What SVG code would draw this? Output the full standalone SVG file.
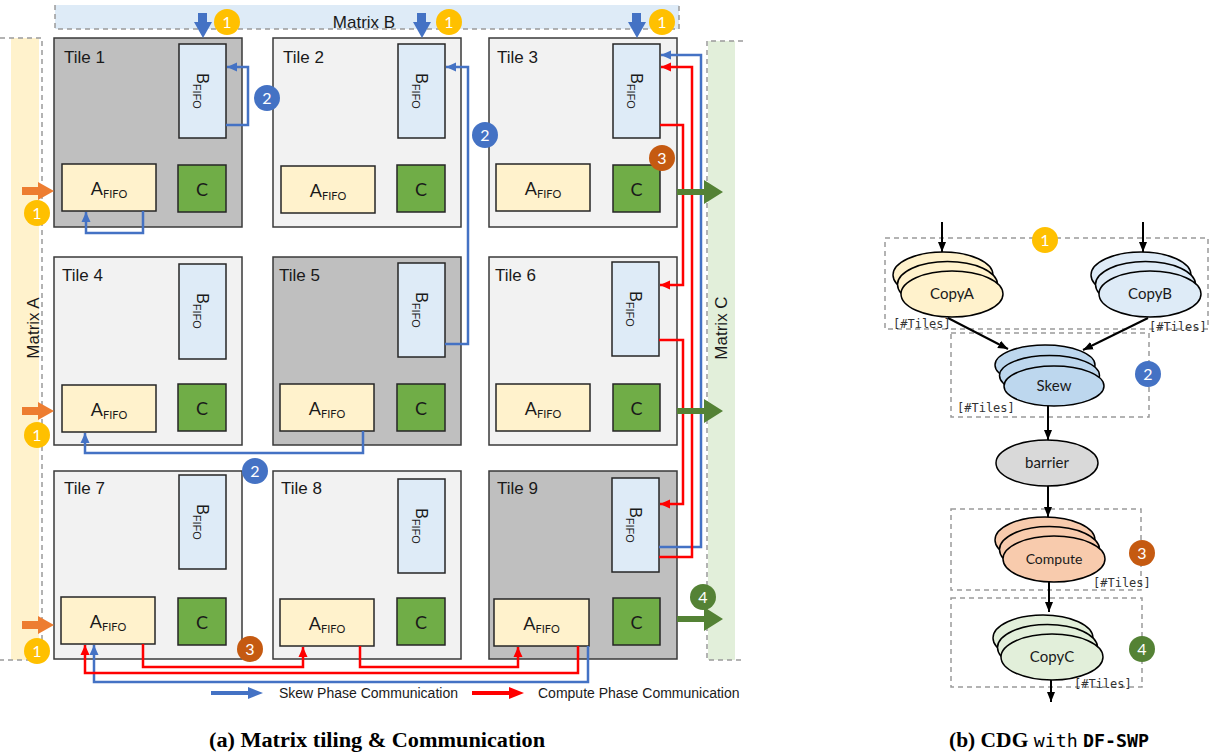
<svg xmlns="http://www.w3.org/2000/svg" width="1212" height="754" viewBox="0 0 1212 754">
<defs>
<style>
.dash{fill:none;stroke:#9a9a9a;stroke-width:1.5;stroke-dasharray:5 4}
.tileD{fill:#bfbfbf;stroke:#3a3a3a;stroke-width:1.5}
.tileL{fill:#f2f2f2;stroke:#3a3a3a;stroke-width:1.5}
.bf{fill:#deebf7;stroke:#262626;stroke-width:1.5}
.af{fill:#fff2cc;stroke:#262626;stroke-width:1.5}
.cf{fill:#70ad47;stroke:#262626;stroke-width:1.5}
.tl{font-family:"Liberation Sans",Arial,sans-serif;font-size:17px;fill:#1a1a1a}
.bt{font-family:"Liberation Sans",Arial,sans-serif;font-size:16px;fill:#1a1a1a}
.at{font-family:Lato,"Open Sans",sans-serif;font-size:18px;fill:#1a1a1a}
.sub{font-size:11px}
.sk{fill:none;stroke:#4472c4;stroke-width:2.5}
.cp{fill:none;stroke:#ff0000;stroke-width:2.5}
.bn{font-family:Lato,"Open Sans",sans-serif;font-size:16px;fill:#ffffff;text-anchor:middle}
.cdg{fill:none;stroke:#000;stroke-width:2}
.el{stroke:#000;stroke-width:1.5}
.et{font-family:Lato,"Open Sans",sans-serif;font-size:15px;fill:#1a1a1a;text-anchor:middle}
.mono{font-family:"DejaVu Sans Mono","Liberation Mono",monospace;font-size:12px;fill:#333}
.lg{font-family:"Liberation Sans",Arial,sans-serif;font-size:14px;fill:#1a1a1a}
.cap{font-family:"Liberation Serif","Times New Roman",serif;font-size:20px;font-weight:bold;fill:#000}
</style>
<marker id="mb" markerUnits="userSpaceOnUse" markerWidth="10" markerHeight="10" viewBox="0 0 10 10" refX="10" refY="5" orient="auto"><path d="M0,0.5 L10,5 L0,9.5 z" fill="#4472c4"/></marker>
<marker id="mr" markerUnits="userSpaceOnUse" markerWidth="10" markerHeight="10" viewBox="0 0 10 10" refX="10" refY="5" orient="auto"><path d="M0,0.5 L10,5 L0,9.5 z" fill="#ff0000"/></marker>
<marker id="mk" markerUnits="userSpaceOnUse" markerWidth="10" markerHeight="10" viewBox="0 0 10 10" refX="10" refY="5" orient="auto"><path d="M0,1 L10,5 L0,9 z" fill="#000"/></marker>
</defs>
<rect width="1212" height="754" fill="#ffffff"/>

<!-- Matrix bands -->
<g id="matrixB">
<rect x="55" y="5" width="624" height="24" fill="#deebf7"/>
<path class="dash" d="M55,5 V29 H679 V5"/>
<text class="tl" x="364" y="28" text-anchor="middle">Matrix B</text>
</g>
<g id="matrixA">
<rect x="11" y="38" width="28" height="622" fill="#fff2cc"/>
<path class="dash" d="M0,38 H42 V660 H0"/>
<text class="tl" transform="translate(39,328) rotate(-90)" text-anchor="middle">Matrix A</text>
</g>
<g id="matrixC">
<rect x="708" y="41" width="27" height="619" fill="#e2efda"/>
<path class="dash" d="M743,41 H707 V660 H743"/>
<text class="tl" transform="translate(727,328) rotate(-90)" text-anchor="middle">Matrix C</text>
</g>

<!-- Tiles -->
<g id="tile1"><rect class="tileD" x="54" y="38" width="188" height="189"/><text class="tl" x="64" y="63">Tile 1</text>
<rect class="bf" x="179" y="44" width="47" height="94"/><text class="bt" transform="translate(202.5,91) rotate(90)" y="6" text-anchor="middle">B<tspan class="sub" dy="4">FIFO</tspan></text>
<rect class="af" x="62" y="164" width="94" height="47"/><text class="at" x="109" y="195" text-anchor="middle">A<tspan class="sub" dy="3">FIFO</tspan></text>
<rect class="cf" x="178" y="165" width="48" height="47"/><text class="at" x="202" y="196" text-anchor="middle">C</text></g>

<g id="tile2"><rect class="tileL" x="273" y="38" width="188" height="189"/><text class="tl" x="283" y="63">Tile 2</text>
<rect class="bf" x="398" y="44" width="47" height="94"/><text class="bt" transform="translate(421.5,91) rotate(90)" y="6" text-anchor="middle">B<tspan class="sub" dy="4">FIFO</tspan></text>
<rect class="af" x="281" y="166" width="94" height="47"/><text class="at" x="328" y="197" text-anchor="middle">A<tspan class="sub" dy="3">FIFO</tspan></text>
<rect class="cf" x="397" y="165" width="48" height="47"/><text class="at" x="421" y="196" text-anchor="middle">C</text></g>

<g id="tile3"><rect class="tileL" x="489" y="38" width="188" height="189"/><text class="tl" x="497" y="63">Tile 3</text>
<rect class="bf" x="613" y="44" width="47" height="94"/><text class="bt" transform="translate(636.5,91) rotate(90)" y="6" text-anchor="middle">B<tspan class="sub" dy="4">FIFO</tspan></text>
<rect class="af" x="496" y="164" width="94" height="47"/><text class="at" x="543" y="195" text-anchor="middle">A<tspan class="sub" dy="3">FIFO</tspan></text>
<rect class="cf" x="613" y="165" width="47" height="47"/><text class="at" x="636.5" y="196" text-anchor="middle">C</text></g>

<g id="tile4"><rect class="tileL" x="54" y="257" width="188" height="188"/><text class="tl" x="62" y="281">Tile 4</text>
<rect class="bf" x="179" y="264" width="47" height="95"/><text class="bt" transform="translate(202.5,311) rotate(90)" y="6" text-anchor="middle">B<tspan class="sub" dy="4">FIFO</tspan></text>
<rect class="af" x="62" y="385" width="94" height="47"/><text class="at" x="109" y="416" text-anchor="middle">A<tspan class="sub" dy="3">FIFO</tspan></text>
<rect class="cf" x="178" y="384" width="48" height="47"/><text class="at" x="202" y="415" text-anchor="middle">C</text></g>

<g id="tile5"><rect class="tileD" x="273" y="257" width="188" height="188"/><text class="tl" x="279" y="281">Tile 5</text>
<rect class="bf" x="398" y="263" width="47" height="94"/><text class="bt" transform="translate(421.5,310) rotate(90)" y="6" text-anchor="middle">B<tspan class="sub" dy="4">FIFO</tspan></text>
<rect class="af" x="280" y="384" width="94" height="47"/><text class="at" x="327" y="415" text-anchor="middle">A<tspan class="sub" dy="3">FIFO</tspan></text>
<rect class="cf" x="397" y="384" width="48" height="47"/><text class="at" x="421" y="415" text-anchor="middle">C</text></g>

<g id="tile6"><rect class="tileL" x="489" y="257" width="188" height="188"/><text class="tl" x="495" y="281">Tile 6</text>
<rect class="bf" x="612" y="262" width="47" height="94"/><text class="bt" transform="translate(635.5,309) rotate(90)" y="6" text-anchor="middle">B<tspan class="sub" dy="4">FIFO</tspan></text>
<rect class="af" x="496" y="384" width="94" height="47"/><text class="at" x="543" y="415" text-anchor="middle">A<tspan class="sub" dy="3">FIFO</tspan></text>
<rect class="cf" x="613" y="384" width="47" height="47"/><text class="at" x="636.5" y="415" text-anchor="middle">C</text></g>

<g id="tile7"><rect class="tileL" x="54" y="471" width="188" height="188"/><text class="tl" x="64" y="494">Tile 7</text>
<rect class="bf" x="179" y="475" width="47" height="94"/><text class="bt" transform="translate(202.5,522) rotate(90)" y="6" text-anchor="middle">B<tspan class="sub" dy="4">FIFO</tspan></text>
<rect class="af" x="61" y="597" width="94" height="47"/><text class="at" x="108" y="628" text-anchor="middle">A<tspan class="sub" dy="3">FIFO</tspan></text>
<rect class="cf" x="178" y="598" width="48" height="47"/><text class="at" x="202" y="629" text-anchor="middle">C</text></g>

<g id="tile8"><rect class="tileL" x="273" y="471" width="188" height="188"/><text class="tl" x="281" y="494">Tile 8</text>
<rect class="bf" x="398" y="479" width="47" height="94"/><text class="bt" transform="translate(421.5,526) rotate(90)" y="6" text-anchor="middle">B<tspan class="sub" dy="4">FIFO</tspan></text>
<rect class="af" x="280" y="599" width="94" height="47"/><text class="at" x="327" y="630" text-anchor="middle">A<tspan class="sub" dy="3">FIFO</tspan></text>
<rect class="cf" x="397" y="598" width="48" height="47"/><text class="at" x="421" y="629" text-anchor="middle">C</text></g>

<g id="tile9"><rect class="tileD" x="489" y="471" width="188" height="188"/><text class="tl" x="497" y="494">Tile 9</text>
<rect class="bf" x="612" y="478" width="47" height="94"/><text class="bt" transform="translate(635.5,525) rotate(90)" y="6" text-anchor="middle">B<tspan class="sub" dy="4">FIFO</tspan></text>
<rect class="af" x="494" y="599" width="95" height="47"/><text class="at" x="541.5" y="630" text-anchor="middle">A<tspan class="sub" dy="3">FIFO</tspan></text>
<rect class="cf" x="613" y="598" width="47" height="47"/><text class="at" x="636.5" y="629" text-anchor="middle">C</text></g>

<!-- Connectors -->
<g id="connectors">
<g fill="#4472c4">
<path d="M198,13 h9 v9 h5 l-9,16 l-9,-16 h4 z"/>
<path d="M417,13 h9 v9 h5 l-9,16 l-9,-16 h4 z"/>
<path d="M632,13 h9 v9 h5 l-9,16 l-9,-16 h4 z"/>
</g>
<g fill="#ed7d31">
<path d="M22,187 h16 v-5 l16,9 l-16,9 v-5 h-16 z"/>
<path d="M22,407 h16 v-5 l16,9 l-16,9 v-5 h-16 z"/>
<path d="M22,621 h16 v-5 l16,9 l-16,9 v-5 h-16 z"/>
</g>
<path class="sk" d="M226,125 H248 V67 H227" marker-end="url(#mb)"/>
<path class="sk" d="M143,211 V233 H86 V212" marker-end="url(#mb)"/>
<path class="sk" d="M445,344 H468 V67 H446" marker-end="url(#mb)"/>
<path class="sk" d="M363,431 V453 H85 V433" marker-end="url(#mb)"/>
<path class="sk" d="M659,547 H701 V55 H661" marker-end="url(#mb)"/>
<path class="sk" d="M588,646 V682 H94 V645" marker-end="url(#mb)"/>
<path class="cp" d="M660,125 H683 V285 H660" marker-end="url(#mr)"/>
<path class="cp" d="M659,340 H683 V504 H660" marker-end="url(#mr)"/>
<path class="cp" d="M659,557 H692 V67 H661" marker-end="url(#mr)"/>
<path class="cp" d="M143,644 V667 H303 V647" marker-end="url(#mr)"/>
<path class="cp" d="M360,646 V667 H518 V647" marker-end="url(#mr)"/>
<path class="cp" d="M578,646 V673 H85 V645" marker-end="url(#mr)"/>
<g fill="#548235">
<path d="M677,189 h27 v-9 l19,12 l-19,12 v-9 h-27 z"/>
<path d="M677,408 h27 v-9 l19,12 l-19,12 v-9 h-27 z"/>
<path d="M677,616 h27 v-9 l19,12 l-19,12 v-9 h-27 z"/>
</g>
<line x1="211" y1="693" x2="250" y2="693" stroke="#4472c4" stroke-width="4"/>
<path d="M248,687 L263,693 L248,699 z" fill="#4472c4"/>
<text class="lg" x="279" y="698">Skew Phase Communication</text>
<line x1="472" y1="693" x2="511" y2="693" stroke="#ff0000" stroke-width="4"/>
<path d="M509,687 L524,693 L509,699 z" fill="#ff0000"/>
<text class="lg" x="538" y="698">Compute Phase Communication</text>
</g>

<g id="badges-a">
<circle cx="227" cy="22" r="13" fill="#ffc000"/><text class="bn" x="227" y="27.5">1</text>
<circle cx="449" cy="22" r="13" fill="#ffc000"/><text class="bn" x="449" y="27.5">1</text>
<circle cx="662" cy="22" r="13" fill="#ffc000"/><text class="bn" x="662" y="27.5">1</text>
<circle cx="37" cy="213" r="13" fill="#ffc000"/><text class="bn" x="37" y="218.5">1</text>
<circle cx="37" cy="435" r="13" fill="#ffc000"/><text class="bn" x="37" y="440.5">1</text>
<circle cx="37" cy="651" r="13" fill="#ffc000"/><text class="bn" x="37" y="656.5">1</text>
<circle cx="267" cy="98" r="13" fill="#4472c4"/><text class="bn" x="267" y="103.5">2</text>
<circle cx="485" cy="135" r="13" fill="#4472c4"/><text class="bn" x="485" y="140.5">2</text>
<circle cx="255" cy="471" r="13" fill="#4472c4"/><text class="bn" x="255" y="476.5">2</text>
<circle cx="662" cy="158" r="13" fill="#c55a11"/><text class="bn" x="662" y="163.5">3</text>
<circle cx="250" cy="649" r="13" fill="#c55a11"/><text class="bn" x="250" y="654.5">3</text>
<circle cx="703" cy="597" r="13" fill="#548235"/><text class="bn" x="703" y="602.5">4</text>
</g>

<g id="cdg-boxes">
<rect class="dash" x="885" y="238" width="323" height="91"/>
<rect class="dash" x="951" y="333" width="198" height="84"/>
<rect class="dash" x="951" y="509" width="190" height="81"/>
<rect class="dash" x="951" y="598" width="191" height="89"/>
</g>
<g id="copyA">
<ellipse class="el" cx="943" cy="275" rx="50" ry="23" fill="#fff2cc"/>
<ellipse class="el" cx="947.5" cy="284.5" rx="50" ry="23" fill="#fff2cc"/>
<ellipse class="el" cx="952" cy="294" rx="51" ry="23" fill="#fff2cc"/>
<text class="et" x="952" y="299">CopyA</text>
<text class="mono" x="893" y="328">[#Tiles]</text>
</g>
<g id="copyB">
<ellipse class="el" cx="1141" cy="275" rx="50" ry="23" fill="#deebf7"/>
<ellipse class="el" cx="1145.5" cy="284.5" rx="50" ry="23" fill="#deebf7"/>
<ellipse class="el" cx="1150" cy="294" rx="51" ry="23" fill="#deebf7"/>
<text class="et" x="1150" y="299">CopyB</text>
<text class="mono" x="1149" y="331">[#Tiles]</text>
</g>
<g id="skew">
<ellipse class="el" cx="1045" cy="365" rx="50" ry="20" fill="#bdd7ee"/>
<ellipse class="el" cx="1049.5" cy="375.5" rx="50" ry="20" fill="#bdd7ee"/>
<ellipse class="el" cx="1054" cy="386" rx="50" ry="20" fill="#bdd7ee"/>
<text class="et" x="1054" y="391">Skew</text>
<text class="mono" x="957" y="412">[#Tiles]</text>
</g>
<g id="barrier">
<ellipse class="el" cx="1047" cy="463" rx="51" ry="23" fill="#d9d9d9"/>
<text class="et" x="1047" y="468">barrier</text>
</g>
<g id="compute">
<ellipse class="el" cx="1045" cy="540" rx="50" ry="23" fill="#f8cbad"/>
<ellipse class="el" cx="1049.5" cy="549.5" rx="50" ry="23" fill="#f8cbad"/>
<ellipse class="el" cx="1054" cy="559" rx="51" ry="23" fill="#f8cbad"/>
<text class="et" x="1054" y="564" style="font-size:14px">Compute</text>
<text class="mono" x="1093" y="587">[#Tiles]</text>
</g>
<g id="copyC">
<ellipse class="el" cx="1043" cy="638" rx="50" ry="23" fill="#e2efda"/>
<ellipse class="el" cx="1047.5" cy="647.5" rx="50" ry="23" fill="#e2efda"/>
<ellipse class="el" cx="1052" cy="657" rx="51" ry="23" fill="#e2efda"/>
<text class="et" x="1052" y="662">CopyC</text>
<text class="mono" x="1074" y="688">[#Tiles]</text>
</g>
<g id="cdg-connectors">
<line class="cdg" x1="942" y1="222" x2="942" y2="252" marker-end="url(#mk)"/>
<line class="cdg" x1="1143" y1="222" x2="1143" y2="252" marker-end="url(#mk)"/>
<line class="cdg" x1="948" y1="318" x2="1008" y2="349" marker-end="url(#mk)"/>
<line class="cdg" x1="1148" y1="318" x2="1083" y2="350" marker-end="url(#mk)"/>
<line class="cdg" x1="1048" y1="406" x2="1048" y2="440" marker-end="url(#mk)"/>
<line class="cdg" x1="1048" y1="486" x2="1048" y2="517" marker-end="url(#mk)"/>
<line class="cdg" x1="1049" y1="582" x2="1049" y2="612" marker-end="url(#mk)"/>
<line class="cdg" x1="1051" y1="680" x2="1051" y2="702" marker-end="url(#mk)"/>
</g>
<g id="badges-b">
<circle cx="1045" cy="240" r="13" fill="#ffc000"/><text class="bn" x="1045" y="245.5">1</text>
<circle cx="1148" cy="374" r="13" fill="#4472c4"/><text class="bn" x="1148" y="379.5">2</text>
<circle cx="1142" cy="553" r="13" fill="#c55a11"/><text class="bn" x="1142" y="558.5">3</text>
<circle cx="1142" cy="649" r="13" fill="#548235"/><text class="bn" x="1142" y="654.5">4</text>
</g>

<text class="cap" x="209" y="747" textLength="336" lengthAdjust="spacingAndGlyphs">(a) Matrix tiling &amp; Communication</text>
<text class="cap" x="949" y="747" textLength="200" lengthAdjust="spacingAndGlyphs">(b) CDG <tspan style="font-family:'DejaVu Sans Mono','Liberation Mono',monospace;font-weight:normal;font-size:17px">with</tspan> <tspan style="font-family:'DejaVu Sans Mono','Liberation Mono',monospace;font-size:17px">DF-SWP</tspan></text>
</svg>
